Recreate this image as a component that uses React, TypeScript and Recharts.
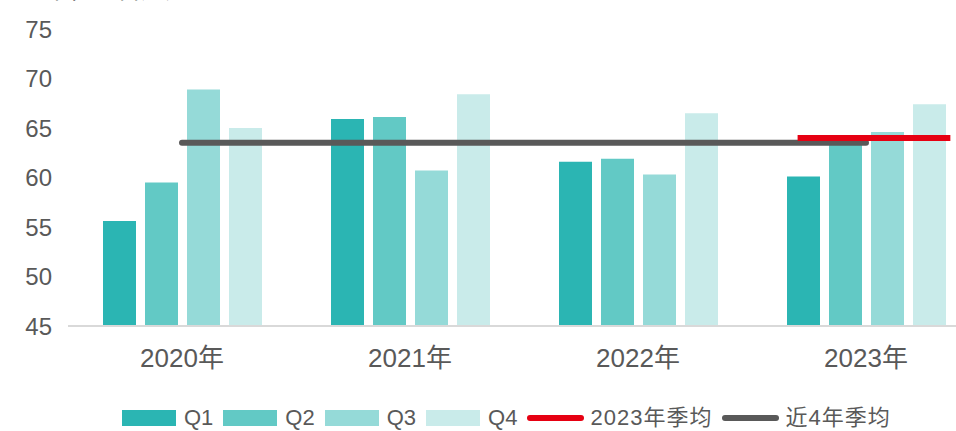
import React from 'react';
import { ComposedChart, Bar, Line, XAxis, YAxis } from 'recharts';

const years = ['2020年', '2021年', '2022年', '2023年'];
const q1 = [55.6, 65.9, 61.6, 60.1];
const q2 = [59.5, 66.1, 61.9, 63.8];
const q3 = [68.9, 60.7, 60.3, 64.6];
const q4 = [65.0, 68.4, 66.5, 67.4];
const avg4Years = [63.5, 63.5, 63.5, 63.5];
const avg2023 = 64.0;
// where the 2023 average segment starts and ends, in year-slot units
const avg2023Span = [3.2, 3.87];
const yTicks = [45, 50, 55, 60, 65, 70, 75];

const seriesNames = ['Q1', 'Q2', 'Q3', 'Q4'];
const barColors = ['#2bb5b3', '#62c9c5', '#95dad8', '#c9ebea'];
const RED = '#e60012';
const GRAY = '#595959';
const TEXT = '#595959';
const FONT = '"Liberation Sans", Arial, "Noto Sans CJK SC", sans-serif';

const data = years.map((year, i) => ({
  year,
  q1: q1[i],
  q2: q2[i],
  q3: q3[i],
  q4: q4[i],
  avg: avg4Years[i],
}));

const redData = avg2023Span.map((x) => ({ x, v: avg2023 }));

const legendItems = [
  ...seriesNames.map((name, i) => ({ name, color: barColors[i], kind: 'rect' })),
  { name: '2023年季均', color: RED, kind: 'line' },
  { name: '近4年季均', color: GRAY, kind: 'line' },
];

function ChartLegend() {
  return (
    <div
      style={{
        position: 'absolute',
        left: 122,
        top: 405,
        display: 'flex',
        alignItems: 'center',
        fontFamily: FONT,
        fontSize: 22,
        color: TEXT,
        lineHeight: '26px',
        whiteSpace: 'nowrap',
      }}
    >
      {legendItems.map((it) => (
        <div key={it.name} style={{ display: 'flex', alignItems: 'center', marginRight: 10 }}>
          {it.kind === 'rect' ? (
            <span style={{ width: 54, height: 16, background: it.color, marginRight: 8, display: 'inline-block' }} />
          ) : (
            <span
              style={{
                width: 57,
                height: 6,
                borderRadius: 3,
                background: it.color,
                marginRight: 6,
                display: 'inline-block',
              }}
            />
          )}
          <span style={{ letterSpacing: it.kind === 'line' ? 1 : 0 }}>{it.name}</span>
        </div>
      ))}
    </div>
  );
}

export default function App() {
  return (
    <div
      style={{
        position: 'absolute',
        left: 0,
        top: 0,
        width: 956,
        height: 431,
        overflow: 'hidden',
        background: '#fff',
      }}
    >
      <div
        style={{
          position: 'absolute',
          left: 45,
          top: -22,
          fontFamily: FONT,
          fontSize: 24,
          lineHeight: '24px',
          color: TEXT,
          whiteSpace: 'nowrap',
        }}
      >
        单位：百万元
      </div>
      <ComposedChart
        width={980}
        height={431}
        data={data}
        margin={{ top: 29, right: 0, bottom: 0, left: 0 }}
        barGap={9}
        barSize={33}
      >
        <XAxis
          dataKey="year"
          height={105}
          axisLine={{ stroke: '#d9d9d9', strokeWidth: 2 }}
          tickLine={false}
          tickSize={0}
          tickMargin={23}
          tick={{ fill: TEXT, fontSize: 26, fontFamily: FONT }}
        />
        <XAxis xAxisId="num" type="number" dataKey="x" domain={[0, 4]} allowDataOverflow hide />
        <YAxis
          width={68}
          domain={[45, 75]}
          ticks={yTicks}
          axisLine={false}
          tickLine={false}
          tickSize={0}
          tickMargin={16}
          tick={{ fill: TEXT, fontSize: 24, fontFamily: FONT }}
        />
        <Bar dataKey="q1" name="Q1" fill={barColors[0]} isAnimationActive={false} />
        <Bar dataKey="q2" name="Q2" fill={barColors[1]} isAnimationActive={false} />
        <Bar dataKey="q3" name="Q3" fill={barColors[2]} isAnimationActive={false} />
        <Bar dataKey="q4" name="Q4" fill={barColors[3]} isAnimationActive={false} />
        <Line
          dataKey="avg"
          name="近4年季均"
          type="linear"
          stroke={GRAY}
          strokeWidth={6}
          strokeLinecap="round"
          dot={false}
          activeDot={false}
          isAnimationActive={false}
        />
        <Line
          data={redData}
          xAxisId="num"
          dataKey="v"
          name="2023年季均"
          type="linear"
          stroke={RED}
          strokeWidth={6}
          dot={false}
          activeDot={false}
          isAnimationActive={false}
        />
      </ComposedChart>
      <ChartLegend />
    </div>
  );
}
